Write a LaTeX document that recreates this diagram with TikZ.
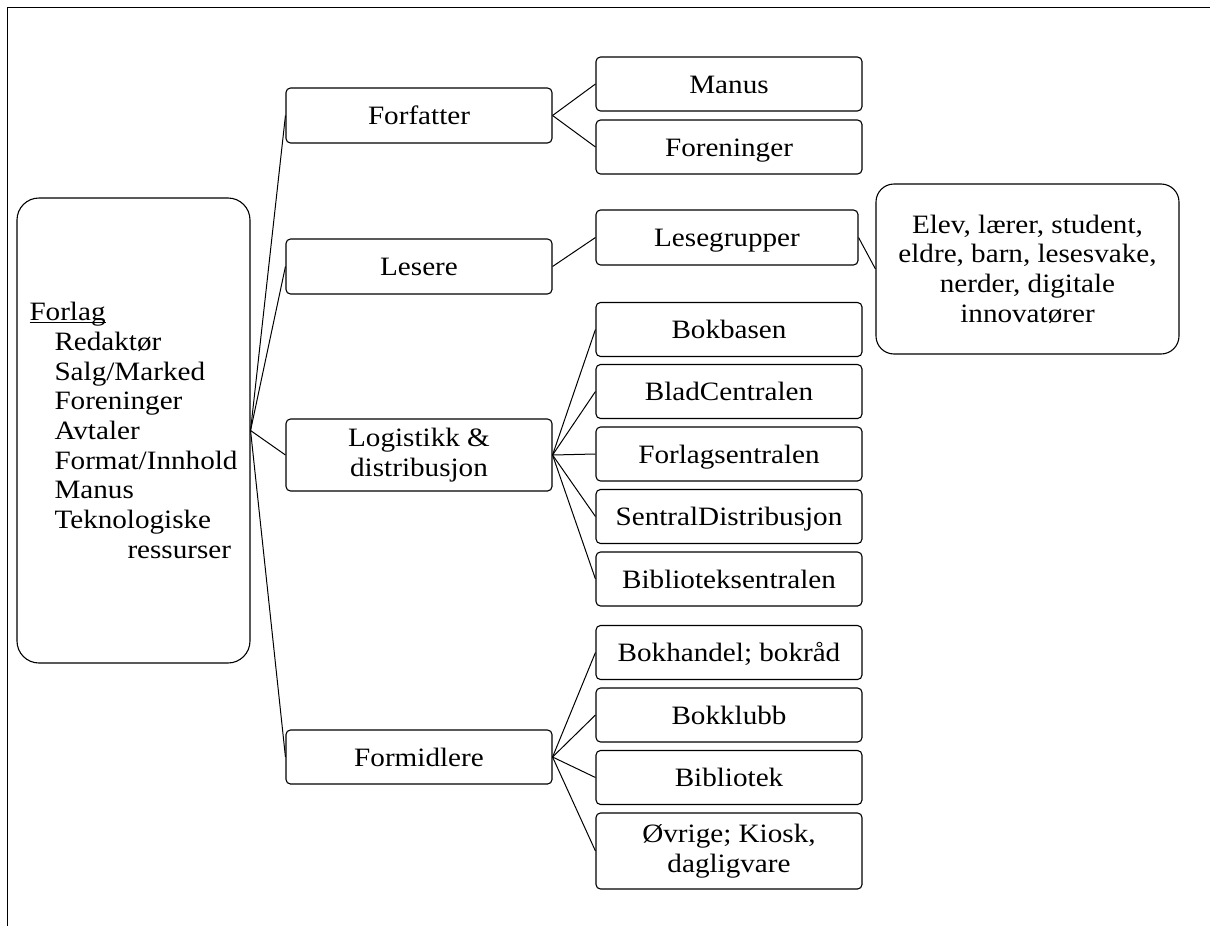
\documentclass[tikz,border=0pt]{standalone}
\usepackage{fontspec}
\setmainfont{Liberation Serif}[FakeStretch=1.1]
\newcommand\myul[1]{\setbox0\hbox{#1}\rlap{\rule[-2.5pt]{\wd0}{1pt}}\box0}
\begin{document}
\begin{tikzpicture}[x=1pt,y=-1pt,
  box/.style={draw=black, line width=1.1pt, rounded corners=4.5pt, inner sep=0pt,
    align=center, font=\fontsize{26.5}{29.7}\selectfont},
  one/.style={box, text height=18pt, text depth=0pt},
  con/.style={line width=1pt}]
\useasboundingbox (0,0) rectangle (1210,926);
\draw[line width=1pt] (7,926) -- (7,7) -- (1210,7);
% root
\node[box, rounded corners=22pt, minimum width=233pt, minimum height=465pt, align=left] (forlag) at (133.5,430.5)
  {\myul{Forlag}\\ \hspace*{25pt}Redaktør\\ \hspace*{25pt}Salg/Marked\\ \hspace*{25pt}Foreninger\\
   \hspace*{25pt}Avtaler\\ \hspace*{25pt}Format/Innhold\\ \hspace*{25pt}Manus\\ \hspace*{25pt}Teknologiske\\
   \hspace*{98pt}ressurser};
% level 1
\node[one, minimum width=266pt, minimum height=55pt] (forfatter) at (419,115.5) {Forfatter};
\node[one, minimum width=266pt, minimum height=55pt] (lesere) at (419,266.5) {Lesere};
\node[box, minimum width=266pt, minimum height=72pt] (logistikk) at (419,455) {Logistikk \&\\distribusjon};
\node[one, minimum width=266pt, minimum height=54pt] (formidlere) at (419,757) {Formidlere};
% level 2
\node[one, minimum width=266pt, minimum height=54pt] (manus) at (729,84) {Manus};
\node[one, minimum width=266pt, minimum height=54pt] (foreninger) at (729,147) {Foreninger};
\node[one, minimum width=262pt, minimum height=55pt] (lesegrupper) at (727,237.5) {Lesegrupper};
\node[one, minimum width=266pt, minimum height=54pt] (bokbasen) at (729,329.5) {Bokbasen};
\node[one, minimum width=266pt, minimum height=54pt] (blad) at (729,391.5) {BladCentralen};
\node[one, minimum width=266pt, minimum height=54pt] (forlagsentralen) at (729,454) {Forlagsentralen};
\node[one, minimum width=266pt, minimum height=54pt] (sentral) at (729,516.5) {SentralDistribusjon};
\node[one, minimum width=266pt, minimum height=54pt] (biblsentral) at (729,579) {Biblioteksentralen};
\node[one, minimum width=266pt, minimum height=54pt] (bokhandel) at (729,652.5) {Bokhandel; bokråd};
\node[one, minimum width=266pt, minimum height=54pt] (bokklubb) at (729,715) {Bokklubb};
\node[one, minimum width=266pt, minimum height=54pt] (bibliotek) at (729,777.5) {Bibliotek};
\node[box, minimum width=266pt, minimum height=76pt] (ovrige) at (729,851) {Øvrige; Kiosk,\\dagligvare};
% level 3
\node[box, rounded corners=18pt, minimum width=303pt, minimum height=170pt] (elev) at (1027.5,269)
  {Elev, lærer, student,\\eldre, barn, lesesvake,\\nerder, digitale\\innovatører};
% connectors
\foreach \t in {forfatter,lesere,logistikk,formidlere}
  \draw[con] (forlag.east) -- (\t.west);
\foreach \t in {manus,foreninger}
  \draw[con] (forfatter.east) -- (\t.west);
\draw[con] (lesere.east) -- (lesegrupper.west);
\draw[con] (lesegrupper.east) -- (elev.west);
\foreach \t in {bokbasen,blad,forlagsentralen,sentral,biblsentral}
  \draw[con] (logistikk.east) -- (\t.west);
\foreach \t in {bokhandel,bokklubb,bibliotek,ovrige}
  \draw[con] (formidlere.east) -- (\t.west);
\end{tikzpicture}
\end{document}
